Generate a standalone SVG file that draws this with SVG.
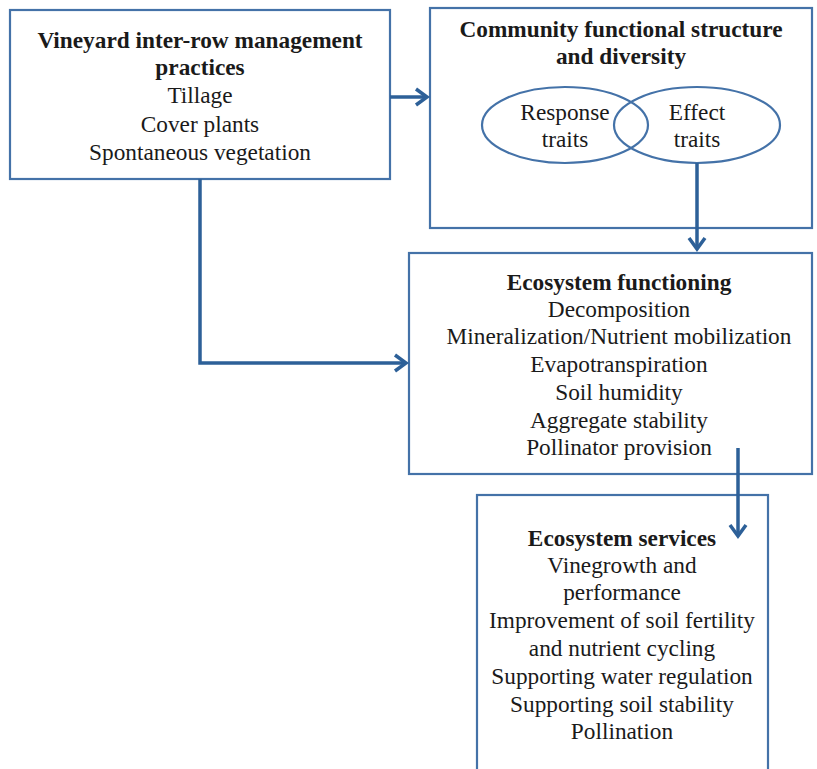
<svg xmlns="http://www.w3.org/2000/svg" width="817" height="769" viewBox="0 0 817 769">
<defs>
<style>
.box{fill:#fff;stroke:#4472a8;stroke-width:2.2}
.ell{fill:none;stroke:#4472a8;stroke-width:2.2}
.t{font-family:"Liberation Serif","Times New Roman",Tinos,serif;font-size:23.3px;fill:#1a1a1a;text-anchor:middle}
.b{font-weight:bold}
.c{fill:none;stroke:#2d6098;stroke-width:3.5}
</style>
<marker id="ah" viewBox="-16 -10 20 20" refX="0" refY="0" markerWidth="20" markerHeight="20" markerUnits="userSpaceOnUse" orient="auto" overflow="visible">
<path d="M-11,-8 L0,0 L-11,8" fill="none" stroke="#2d6098" stroke-width="3.5" stroke-linejoin="miter"/>
</marker>
</defs>
<rect width="817" height="769" fill="#fff"/>
<g id="practices">
<rect class="box" x="10" y="10" width="380" height="169"/>
<text class="t b" x="200" y="48">Vineyard inter-row management</text>
<text class="t b" x="200" y="75">practices</text>
<text class="t" x="200" y="103">Tillage</text>
<text class="t" x="200" y="132">Cover plants</text>
<text class="t" x="200" y="160">Spontaneous vegetation</text>
</g>
<g id="community">
<rect class="box" x="430" y="8" width="382" height="220"/>
<text class="t b" x="621" y="37">Community functional structure</text>
<text class="t b" x="621" y="64">and diversity</text>
<ellipse class="ell" cx="565" cy="125" rx="83" ry="38"/>
<ellipse class="ell" cx="697" cy="125" rx="83" ry="38"/>
<text class="t" x="565" y="120">Response</text>
<text class="t" x="565" y="147">traits</text>
<text class="t" x="697" y="120">Effect</text>
<text class="t" x="697" y="147">traits</text>
</g>
<g id="functioning">
<rect class="box" x="409" y="253" width="403" height="221"/>
<text class="t b" x="619" y="290">Ecosystem functioning</text>
<text class="t" x="619" y="317">Decomposition</text>
<text class="t" x="619" y="344">Mineralization/Nutrient mobilization</text>
<text class="t" x="619" y="372">Evapotranspiration</text>
<text class="t" x="619" y="400">Soil humidity</text>
<text class="t" x="619" y="428">Aggregate stability</text>
<text class="t" x="619" y="455">Pollinator provision</text>
</g>
<g id="services">
<rect class="box" x="477" y="495" width="291" height="290"/>
<text class="t b" x="622" y="546">Ecosystem services</text>
<text class="t" x="622" y="573">Vinegrowth and</text>
<text class="t" x="622" y="600">performance</text>
<text class="t" x="622" y="628">Improvement of soil fertility</text>
<text class="t" x="622" y="656">and nutrient cycling</text>
<text class="t" x="622" y="684">Supporting water regulation</text>
<text class="t" x="622" y="712">Supporting soil stability</text>
<text class="t" x="622" y="739">Pollination</text>
</g>
<g id="connectors">
<path class="c" d="M390,97 H427" marker-end="url(#ah)"/>
<path class="c" d="M697,163 V249" marker-end="url(#ah)"/>
<path class="c" d="M200,179 V363 H406" marker-end="url(#ah)"/>
<path class="c" d="M738,448 V536" marker-end="url(#ah)"/>
</g>
</svg>
